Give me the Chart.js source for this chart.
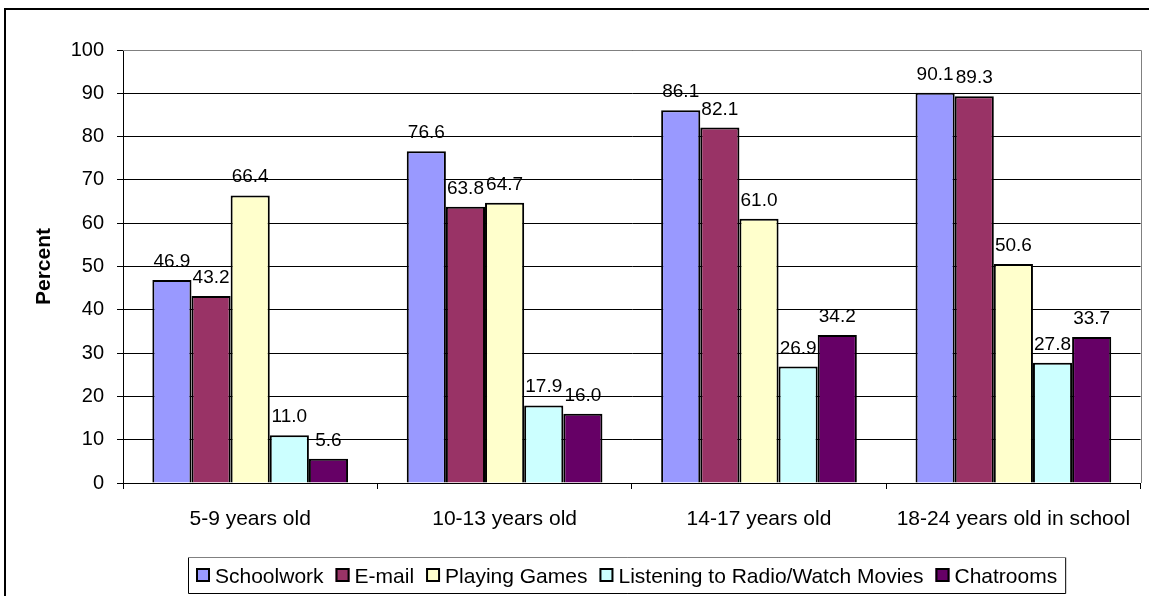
<!DOCTYPE html>
<html>
<head>
<meta charset="utf-8">
<script src="https://cdn.jsdelivr.net/npm/chart.js@4.4.0/dist/chart.umd.min.js"></script>
<style>
  html, body { margin: 0; padding: 0; background: #fff; }
  canvas { display: block; }
</style>
</head>
<body>
<canvas id="usage-chart" width="1149" height="596"></canvas>
<script>
// Data
const categories = ['5-9 years old', '10-13 years old', '14-17 years old', '18-24 years old in school'];
const schoolwork = [46.9, 76.6, 86.1, 90.1];
const email = [43.2, 63.8, 82.1, 89.3];
const playingGames = [66.4, 64.7, 61.0, 50.6];
const radioMovies = [11.0, 17.9, 26.9, 27.8];
const chatrooms = [5.6, 16.0, 34.2, 33.7];
const yTicks = [0, 10, 20, 30, 40, 50, 60, 70, 80, 90, 100];

const seriesNames = ['Schoolwork', 'E-mail', 'Playing Games', 'Listening to Radio/Watch Movies', 'Chatrooms'];
const seriesColors = ['#9999FF', '#993366', '#FFFFCC', '#CCFFFF', '#660066'];

const FONT = '"Liberation Sans", Arial, sans-serif';

// Draws the frame, plot border, value labels and the legend box
const decorations = {
    id: 'decorations',
    afterDatasetsDraw(chart) {
        const ctx = chart.ctx;
        ctx.save();
        ctx.font = '19px ' + FONT;
        ctx.fillStyle = '#000';
        ctx.textAlign = 'center';
        ctx.textBaseline = 'alphabetic';
        chart.data.datasets.forEach((ds, i) => {
            chart.getDatasetMeta(i).data.forEach((bar, j) => {
                ctx.fillText(ds.data[j].toFixed(1), bar.x, bar.y - 13);
            });
        });
        ctx.restore();
    },
    afterDraw(chart) {
        const ctx = chart.ctx;
        const area = chart.chartArea;
        ctx.save();

        // plot area border (top / right) in grey
        ctx.strokeStyle = '#808080';
        ctx.lineWidth = 1;
        ctx.beginPath();
        ctx.moveTo(area.left, Math.round(area.top) + 0.5);
        ctx.lineTo(Math.round(area.right) + 0.5, Math.round(area.top) + 0.5);
        ctx.lineTo(Math.round(area.right) + 0.5, Math.round(area.bottom));
        ctx.stroke();

        // outer frame
        ctx.strokeStyle = '#000';
        ctx.lineWidth = 2;
        ctx.beginPath();
        ctx.moveTo(5, 600);
        ctx.lineTo(5, 9);
        ctx.lineTo(1160, 9);
        ctx.stroke();

        // legend
        ctx.font = '21px ' + FONT;
        ctx.textAlign = 'left';
        ctx.textBaseline = 'middle';
        const boxLeft = 188, boxTop = 557, boxBottom = 593;
        let x = 196;
        const midY = 576;
        seriesNames.forEach((name, i) => {
            ctx.fillStyle = seriesColors[i];
            ctx.fillRect(x, midY - 8, 14, 14);
            ctx.strokeStyle = '#000';
            ctx.lineWidth = 2;
            ctx.strokeRect(x + 1, midY - 7, 12, 12);
            ctx.fillStyle = '#000';
            ctx.fillText(name, x + 19, midY + 1);
            x += 19 + ctx.measureText(name).width + 12;
        });
        const boxRight = x - 12 + 8;
        ctx.lineWidth = 1;
        ctx.strokeStyle = '#000';
        ctx.beginPath();
        ctx.moveTo(boxLeft + 0.5, boxTop + 0.5);
        ctx.lineTo(boxLeft + 0.5, boxBottom + 0.5);
        ctx.lineTo(boxRight + 0.5, boxBottom + 0.5);
        ctx.lineTo(boxRight + 0.5, boxTop + 0.5);
        ctx.stroke();
        ctx.strokeStyle = '#808080';
        ctx.beginPath();
        ctx.moveTo(boxLeft + 0.5, boxTop + 0.5);
        ctx.lineTo(boxRight + 0.5, boxTop + 0.5);
        ctx.stroke();

        ctx.restore();
    }
};

const ctx = document.getElementById('usage-chart').getContext('2d');
new Chart(ctx, {
    type: 'bar',
    data: {
        labels: categories,
        datasets: [schoolwork, email, playingGames, radioMovies, chatrooms].map((values, i) => ({
            label: seriesNames[i],
            data: values,
            backgroundColor: seriesColors[i],
            borderColor: '#000',
            borderWidth: 2,
            categoryPercentage: 5 / 6.5,
            barPercentage: 1
        }))
    },
    options: {
        responsive: false,
        animation: false,
        devicePixelRatio: 1,
        layout: { padding: { left: 0, right: 7, top: 50, bottom: 0 } },
        plugins: {
            legend: { display: false },
            tooltip: { enabled: false }
        },
        scales: {
            x: {
                grid: { offset: true, drawOnChartArea: false, drawTicks: true, tickLength: 6, color: '#000' },
                border: { color: '#000', width: 1 },
                ticks: { color: '#000', padding: 18, font: { family: FONT, size: 21 } },
                afterFit(scale) { scale.height = 113; }
            },
            y: {
                min: 0,
                max: 100,
                grid: { color: '#000', tickLength: 6 },
                border: { color: '#000', width: 1 },
                afterBuildTicks(scale) { scale.ticks = yTicks.map(v => ({ value: v })); },
                ticks: { color: '#000', padding: 13, font: { family: FONT, size: 20 } },
                title: {
                    display: true,
                    text: 'Percent',
                    color: '#000',
                    font: { family: FONT, size: 21, weight: 'bold' },
                    padding: { top: 32, bottom: 0 }
                },
                afterFit(scale) { scale.width = 123; }
            }
        }
    },
    plugins: [decorations]
});
</script>
</body>
</html>
